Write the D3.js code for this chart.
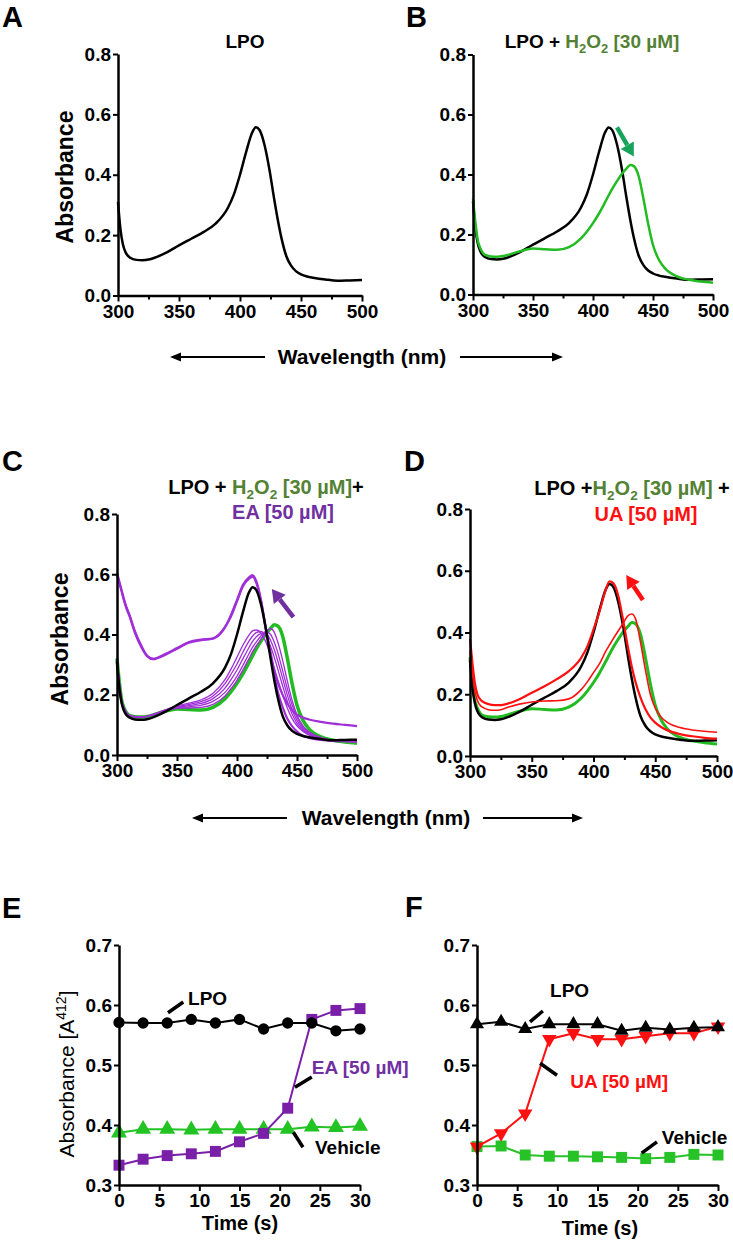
<!DOCTYPE html>
<html>
<head>
<meta charset="utf-8">
<script src="https://cdn.jsdelivr.net/npm/d3@7"></script>
<style>
  body { margin: 0; background: #fff; }
  svg text { font-family: "Liberation Sans", Arial, sans-serif; }
</style>
</head>
<body>
<div id="fig"></div>
<script>
// wavelength grid (nm) shared by all spectra
const wl = [300,302,304,306,308,310,315,320,325,330,340,350,360,370,380,390,395,400,405,410,413,416,420,424,428,431,434,438,442,446,450,455,460,470,480,490,500];

// spectra (absorbance)
const lpo   = [0.31,0.22,0.17,0.145,0.132,0.125, 0.118,0.117,0.119,0.125, 0.143,0.166,0.188,0.21,0.238,0.29, 0.335,0.40,0.475,0.54,0.557,0.548, 0.50,0.42,0.32,0.25,0.19,0.13, 0.098,0.08,0.07,0.063,0.059, 0.053,0.049,0.05,0.051];
const h2o2  = [0.32,0.24,0.18,0.155,0.14,0.132, 0.127,0.126,0.128,0.133, 0.145,0.153,0.151,0.149,0.158,0.187, 0.21,0.238,0.27,0.307,0.33,0.352, 0.378,0.402,0.42,0.432,0.428,0.395, 0.32,0.235,0.165,0.115,0.087, 0.06,0.049,0.043,0.039];
const eaTop = [0.605,0.575,0.545,0.515,0.49,0.47, 0.41,0.365,0.33,0.32, 0.335,0.355,0.375,0.383,0.387,0.425, 0.46,0.51,0.56,0.585,0.592,0.572, 0.51,0.42,0.34,0.28,0.24,0.2, 0.17,0.148,0.134,0.124,0.118, 0.11,0.104,0.1,0.096];
const eaTop2 = [0.6,0.57,0.54,0.51,0.485,0.465, 0.405,0.36,0.328,0.318, 0.332,0.353,0.373,0.381,0.386,0.423, 0.465,0.515,0.565,0.59,0.597,0.578, 0.515,0.42,0.33,0.265,0.21,0.16, 0.12,0.095,0.078,0.064,0.057, 0.05,0.047,0.046,0.045];
const ea1 = [0.32,0.24,0.18,0.155,0.14,0.132, 0.127,0.126,0.128,0.134, 0.15,0.163,0.172,0.183,0.205,0.25, 0.285,0.325,0.365,0.398,0.412,0.415, 0.405,0.375,0.33,0.29,0.25,0.2, 0.155,0.12,0.097,0.078,0.066, 0.055,0.049,0.046,0.045];
const ea2 = [0.32,0.24,0.18,0.155,0.14,0.132, 0.127,0.126,0.128,0.134, 0.149,0.16,0.168,0.177,0.196,0.237, 0.268,0.302,0.342,0.378,0.395,0.406, 0.41,0.395,0.36,0.325,0.285,0.23, 0.178,0.135,0.105,0.082,0.068, 0.055,0.049,0.046,0.045];
const ea3 = [0.32,0.24,0.18,0.155,0.14,0.132, 0.127,0.126,0.128,0.134, 0.148,0.158,0.164,0.171,0.187,0.222, 0.25,0.282,0.32,0.357,0.377,0.392, 0.403,0.403,0.38,0.35,0.312,0.255, 0.198,0.15,0.115,0.087,0.071, 0.056,0.049,0.046,0.045];
const ea4 = [0.32,0.24,0.18,0.155,0.14,0.132, 0.127,0.126,0.128,0.134, 0.147,0.156,0.16,0.165,0.178,0.208, 0.232,0.262,0.298,0.336,0.358,0.375, 0.395,0.41,0.4,0.375,0.34,0.28, 0.22,0.165,0.125,0.092,0.074, 0.057,0.049,0.045,0.044];
const ea5 = [0.32,0.24,0.18,0.155,0.14,0.132, 0.127,0.126,0.128,0.134, 0.146,0.155,0.156,0.158,0.168,0.196, 0.22,0.248,0.283,0.32,0.343,0.362, 0.385,0.408,0.42,0.408,0.375,0.315, 0.245,0.18,0.133,0.097,0.077, 0.058,0.049,0.045,0.043];
const uaHigh = [0.38,0.3,0.235,0.2,0.185,0.177, 0.168,0.165,0.165,0.169, 0.184,0.205,0.225,0.248,0.275,0.318, 0.355,0.41,0.47,0.54,0.566,0.56, 0.52,0.44,0.35,0.29,0.24,0.19, 0.152,0.125,0.108,0.093,0.083, 0.071,0.064,0.059,0.056];
const uaLow  = [0.34,0.27,0.21,0.18,0.165,0.158, 0.15,0.148,0.15,0.157, 0.168,0.175,0.178,0.179,0.185,0.215, 0.24,0.27,0.3,0.34,0.36,0.38, 0.405,0.43,0.455,0.46,0.445,0.37, 0.28,0.2,0.155,0.125,0.108, 0.092,0.084,0.08,0.077];

const wlTicks = [300,350,400,450,500];
const wlMinor = [325,375,425,475];
const absTicks = [0,0.2,0.4,0.6,0.8];

// kinetics at 412 nm
const time = [0,3,6,9,12,15,18,21,24,27,30];
const eLpo = [0.571,0.570,0.570,0.576,0.570,0.576,0.560,0.570,0.570,0.557,0.560];
const eEa  = [0.333,0.343,0.349,0.352,0.356,0.372,0.386,0.428,0.576,0.591,0.594];
const eVeh = [0.387,0.393,0.393,0.392,0.393,0.393,0.393,0.393,0.397,0.396,0.398];
const fLpo = [0.568,0.572,0.560,0.568,0.568,0.568,0.557,0.562,0.559,0.562,0.563];
const fUa  = [0.364,0.386,0.419,0.543,0.553,0.543,0.543,0.548,0.553,0.553,0.564];
const fVeh = [0.364,0.365,0.350,0.348,0.348,0.347,0.346,0.344,0.346,0.351,0.350];
const timeTicks = [0,5,10,15,20,25,30];
const a412Ticks = [0.3,0.4,0.5,0.6,0.7];

const BLACK = "#000", GREEN = "#22bb22", TGREEN = "#548235", PURPLE = "#a02fd8",
      TPURPLE = "#7030a0", RED = "#ff1010";

const svg = d3.select("#fig").append("svg")
    .attr("width", 733).attr("height", 1243);

function styleAxis(g) {
  g.selectAll(".domain").attr("stroke-width", 2.5);
  g.selectAll(".tick line").attr("stroke-width", 2);
  g.selectAll(".tick text").attr("font-size", 19).attr("font-weight", "bold")
    .attr("fill", "#000").attr("font-family", "Liberation Sans, Arial, sans-serif");
}

function arrow(g, x1, y1, x2, y2, color, sw, L, W) {
  const a = Math.atan2(y2 - y1, x2 - x1);
  const bx = x2 - L * Math.cos(a), by = y2 - L * Math.sin(a);
  g.append("line").attr("x1", x1).attr("y1", y1).attr("x2", bx).attr("y2", by)
    .attr("stroke", color).attr("stroke-width", sw);
  g.append("path")
    .attr("d", `M${x2},${y2}L${bx + W * Math.sin(a)},${by - W * Math.cos(a)}L${bx - W * Math.sin(a)},${by + W * Math.cos(a)}Z`)
    .attr("fill", color);
}

// text with coloured parts and subscripts
function richText(x, y, parts, size, anchor) {
  const t = svg.append("text").attr("x", x).attr("y", y)
    .attr("text-anchor", anchor || "middle").attr("font-size", size).attr("font-weight", "bold");
  let down = false;
  parts.forEach(p => {
    const s = t.append("tspan").attr("fill", p.c).text(p.t);
    if (p.sub) { s.attr("font-size", size * 0.68); if (!down) { s.attr("dy", 5); down = true; } }
    else if (down) { s.attr("dy", -5); down = false; }
  });
  return t;
}

function spectrumPanel(box, curves, arr) {
  const x = d3.scaleLinear().domain([300, 500]).range([box.left, box.right]);
  const y = d3.scaleLinear().domain([0, 0.8]).range([box.bottom, box.top]);
  const g = svg.append("g");
  const line = d3.line().x((d, i) => x(wl[i])).y(d => y(d)).curve(d3.curveMonotoneX);
  curves.forEach(c => {
    g.append("path").attr("d", line(c.v)).attr("fill", "none")
      .attr("stroke", c.color).attr("stroke-width", c.w).attr("stroke-linejoin", "round");
  });
  g.append("g").attr("transform", `translate(0,${box.bottom})`)
    .call(d3.axisBottom(x).tickValues(wlTicks).tickSize(6).tickSizeOuter(0).tickPadding(3))
    .call(styleAxis);
  g.append("g").attr("transform", `translate(0,${box.bottom})`)
    .call(d3.axisBottom(x).tickValues(wlMinor).tickSize(4).tickFormat(""))
    .call(a => a.select(".domain").remove())
    .selectAll("line").attr("stroke-width", 2);
  g.append("g").attr("transform", `translate(${box.left},0)`)
    .call(d3.axisLeft(y).tickValues(absTicks).tickFormat(d3.format(".1f")).tickSize(5).tickSizeOuter(0).tickPadding(2))
    .call(styleAxis);
  if (arr) arrow(g, x(arr[0]), y(arr[1]), x(arr[2]), y(arr[3]), arr[4], 4.5, 13, 7.5);
}

function kineticPanel(box, series, notes) {
  const x = d3.scaleLinear().domain([0, 30]).range([box.left, box.right]);
  const y = d3.scaleLinear().domain([0.3, 0.7]).range([box.bottom, box.top]);
  const g = svg.append("g");
  const line = d3.line().x((d, i) => x(time[i])).y(d => y(d));
  series.forEach(s => {
    g.append("path").attr("d", line(s.v)).attr("fill", "none")
      .attr("stroke", s.color).attr("stroke-width", 2);
    g.selectAll(null).data(s.v).join("path")
      .attr("transform", (d, i) => `translate(${x(time[i])},${y(d)})` + (s.down ? " rotate(180)" : ""))
      .attr("d", d3.symbol().type(s.shape).size(s.size))
      .attr("fill", s.color);
  });
  g.append("g").attr("transform", `translate(0,${box.bottom})`)
    .call(d3.axisBottom(x).tickValues(timeTicks).tickSize(6).tickSizeOuter(0).tickPadding(3))
    .call(styleAxis);
  g.append("g").attr("transform", `translate(${box.left},0)`)
    .call(d3.axisLeft(y).tickValues(a412Ticks).tickFormat(d3.format(".1f")).tickSize(5).tickSizeOuter(0).tickPadding(2))
    .call(styleAxis);
  notes.forEach(n => {
    g.append("line").attr("x1", x(n.l[0])).attr("y1", y(n.l[1])).attr("x2", x(n.l[2])).attr("y2", y(n.l[3]))
      .attr("stroke", "#000").attr("stroke-width", 3.5);
    g.append("text").attr("x", x(n.t[0])).attr("y", y(n.t[1]) + 7)
      .attr("font-size", 19).attr("font-weight", "bold").attr("fill", n.c).text(n.s);
  });
}

// ---- panel A
spectrumPanel({left: 118, right: 362, top: 54, bottom: 295.5},
  [{v: lpo, color: BLACK, w: 2.5}]);
// ---- panel B
spectrumPanel({left: 473, right: 713, top: 54.5, bottom: 294.5},
  [{v: lpo, color: BLACK, w: 2.5}, {v: h2o2, color: GREEN, w: 2.5}],
  [420, 0.557, 434, 0.46, "#17a45a"]);
// ---- panel C
spectrumPanel({left: 117, right: 357, top: 514, bottom: 755},
  [{v: h2o2, color: GREEN, w: 3.5},
   {v: ea5, color: PURPLE, w: 1.3}, {v: ea4, color: PURPLE, w: 1.3}, {v: ea3, color: PURPLE, w: 1.3},
   {v: ea2, color: PURPLE, w: 1.3}, {v: ea1, color: PURPLE, w: 1.3},
   {v: eaTop2, color: PURPLE, w: 2.2}, {v: eaTop, color: PURPLE, w: 2.2},
   {v: lpo, color: BLACK, w: 2.5}],
  [447, 0.458, 429, 0.551, TPURPLE]);
// ---- panel D
spectrumPanel({left: 470, right: 717, top: 509, bottom: 756},
  [{v: h2o2, color: GREEN, w: 3}, {v: lpo, color: BLACK, w: 2.5},
   {v: uaLow, color: RED, w: 1.6}, {v: uaHigh, color: RED, w: 2.2}],
  [440, 0.505, 426.5, 0.586, RED]);

// ---- panel E
kineticPanel({left: 119, right: 360, top: 945, bottom: 1185}, [
  {v: eVeh, color: "#22c322", shape: d3.symbolTriangle, size: 110},
  {v: eEa, color: "#7a1fa8", shape: d3.symbolSquare, size: 120},
  {v: eLpo, color: BLACK, shape: d3.symbolCircle, size: 100}
], [
  {s: "LPO", c: BLACK, t: [8.6, 0.612], l: [6.1, 0.587, 8.0, 0.605]},
  {s: "EA [50 µM]", c: TPURPLE, t: [24.0, 0.497], l: [21.9, 0.463, 24.0, 0.48]},
  {s: "Vehicle", c: BLACK, t: [24.4, 0.363], l: [21.7, 0.388, 22.9, 0.363]}
]);
// ---- panel F
kineticPanel({left: 477, right: 718, top: 945, bottom: 1185}, [
  {v: fVeh, color: "#27c227", shape: d3.symbolSquare, size: 120},
  {v: fUa, color: RED, shape: d3.symbolTriangle, size: 90, down: true},
  {v: fLpo, color: BLACK, shape: d3.symbolTriangle, size: 85}
], [
  {s: "LPO", c: BLACK, t: [9.1, 0.625], l: [6.6, 0.572, 8.2, 0.59]},
  {s: "UA [50 µM]", c: RED, t: [11.6, 0.473], l: [7.85, 0.503, 9.96, 0.483]},
  {s: "Vehicle", c: BLACK, t: [23.0, 0.38], l: [20.5, 0.353, 22.4, 0.372]}
]);

// ---- panel letters
[["A", 2, 27], ["B", 406, 27], ["C", 2, 471], ["D", 404, 471], ["E", 2, 918], ["F", 405, 917]]
  .forEach(d => svg.append("text").attr("x", d[1]).attr("y", d[2])
    .attr("font-size", 29).attr("font-weight", "bold").text(d[0]));

// ---- titles
richText(245, 48, [{t: "LPO", c: BLACK}], 19);
richText(592, 48, [{t: "LPO + ", c: BLACK}, {t: "H", c: TGREEN}, {t: "2", c: TGREEN, sub: true},
  {t: "O", c: TGREEN}, {t: "2", c: TGREEN, sub: true}, {t: " [30 µM]", c: TGREEN}], 19);
richText(266, 494, [{t: "LPO + ", c: BLACK}, {t: "H", c: TGREEN}, {t: "2", c: TGREEN, sub: true},
  {t: "O", c: TGREEN}, {t: "2", c: TGREEN, sub: true}, {t: " [30 µM]", c: TGREEN}, {t: "+", c: BLACK}], 20);
richText(283, 519, [{t: "EA [50 µM]", c: TPURPLE}], 20);
richText(632, 495, [{t: "LPO +", c: BLACK}, {t: "H", c: TGREEN}, {t: "2", c: TGREEN, sub: true},
  {t: "O", c: TGREEN}, {t: "2", c: TGREEN, sub: true}, {t: " [30 µM]", c: TGREEN}, {t: " +", c: BLACK}], 20);
richText(646, 521, [{t: "UA [50 µM]", c: RED}], 20);

// ---- axis titles
function yTitle(x, y, size, weight) {
  return svg.append("text").attr("transform", `translate(${x},${y}) rotate(-90)`)
    .attr("text-anchor", "middle").attr("font-size", size).attr("font-weight", weight);
}
yTitle(73, 177, 23, "bold").text("Absorbance");
yTitle(68, 639, 23, "bold").text("Absorbance");
const et = yTitle(74, 1074, 21, "normal");
et.append("tspan").text("Absorbance [A");
et.append("tspan").attr("font-size", 14).attr("dy", -8).text("412");
et.append("tspan").attr("dy", 8).text("]");

function waveRow(cx, cy, la, ra) {
  svg.append("text").attr("x", cx).attr("y", cy + 7).attr("text-anchor", "middle")
    .attr("font-size", 21).attr("font-weight", "bold").text("Wavelength (nm)");
  arrow(svg, la[1], cy, la[0], cy, "#000", 2.2, 11, 4.5);
  arrow(svg, ra[0], cy, ra[1], cy, "#000", 2.2, 11, 4.5);
}
waveRow(362, 357, [170, 265], [460, 563]);
waveRow(386, 818, [192, 287], [483, 583]);

svg.append("text").attr("x", 240).attr("y", 1230).attr("text-anchor", "middle")
  .attr("font-size", 20).attr("font-weight", "bold").text("Time (s)");
svg.append("text").attr("x", 600).attr("y", 1235).attr("text-anchor", "middle")
  .attr("font-size", 20).attr("font-weight", "bold").text("Time (s)");
</script>
</body>
</html>
